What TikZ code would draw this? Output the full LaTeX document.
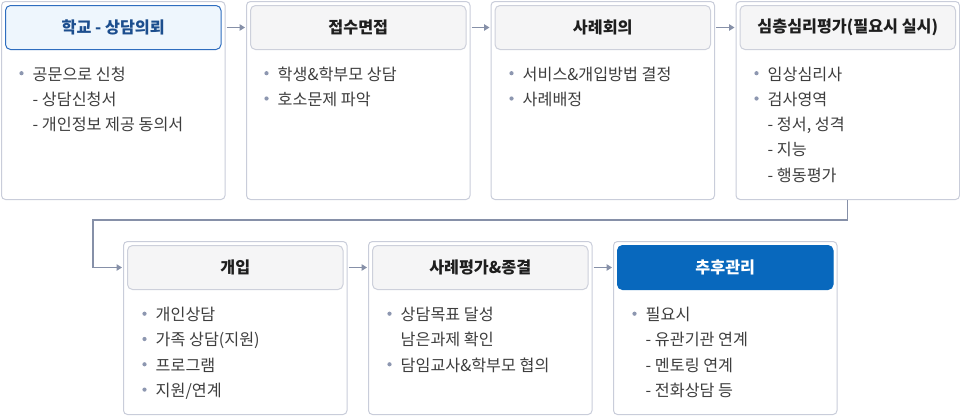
\documentclass[tikz,border=0pt]{standalone}
\usepackage{fontspec}
\setmainfont{Noto Sans CJK KR}
\usetikzlibrary{arrows.meta}
\definecolor{boxline}{HTML}{C9CDDA}
\definecolor{hdfill}{HTML}{F5F5F6}
\definecolor{hdline}{HTML}{CDD0DB}
\definecolor{bluefill}{HTML}{EEF6FD}
\definecolor{blueline}{HTML}{2E6DBF}
\definecolor{bluetext}{HTML}{1C4E8E}
\definecolor{darkblue}{HTML}{0868BD}
\definecolor{arrowc}{HTML}{8690A8}
\definecolor{bodyc}{HTML}{3E3E3E}
\definecolor{bulc}{HTML}{8D97B0}
\definecolor{headc}{HTML}{1E1E1E}
\newcommand{\bitem}[4]{\fill[bulc] (#2-11,#3-6.8) circle (2.1pt); \node[bodytext] (#1) at (#2,#3) {#4};}
\newcommand{\sitem}[4]{\node[bodytext] (#1) at (#2,#3) {#4};}
\begin{document}
\begin{tikzpicture}[x=1pt,y=-1pt,
  outerbox/.style={draw=boxline, line width=1pt, rounded corners=4pt, fill=white, anchor=north west, inner sep=0pt, minimum width=223.5pt},
  hdbox/.style={draw=hdline, fill=hdfill, line width=1pt, rounded corners=5pt, anchor=north west, inner sep=0pt, minimum width=215.5pt, minimum height=44pt, font=\fontsize{16.2}{19}\selectfont\bfseries, text=headc},
  hdblue/.style={hdbox, draw=blueline, fill=bluefill, text=bluetext},
  hddark/.style={hdbox, draw=darkblue, fill=darkblue, text=white},
  bodytext/.style={anchor=base west, inner sep=0pt, font=\fontsize{16.2}{19}\selectfont, text=bodyc},
  arr/.style={draw=arrowc, line width=1.1pt, -{Triangle[length=5.5pt,width=6.5pt]}, shorten <=1pt, shorten >=1pt}
]
\useasboundingbox (0,0) rectangle (960,415);
% top row boxes
\node[outerbox, minimum height=198pt] (b1) at (1,1) {};
\node[outerbox, minimum height=198pt] (b2) at (246,1) {};
\node[outerbox, minimum height=198pt] (b3) at (490.5,1) {};
\node[outerbox, minimum height=198pt] (b4) at (735.5,1) {};
\node[hdblue] (h1) at (5,5) {학교 - 상담의뢰};
\node[hdbox] (h2) at (250,5) {접수면접};
\node[hdbox] (h3) at (494.5,5) {사례회의};
\node[hdbox] (h4) at (739.5,5) {심층심리평가(필요시 실시)};
% bottom row boxes
\node[outerbox, minimum height=173pt] (b5) at (123,241) {};
\node[outerbox, minimum height=173pt] (b6) at (368,241) {};
\node[outerbox, minimum height=173pt] (b7) at (613,241) {};
\node[hdbox] (h5) at (127,245) {개입};
\node[hdbox] (h6) at (372,245) {사례평가\&종결};
\node[hddark] (h7) at (617,245) {추후관리};
% body texts
\bitem{t1a}{32.5}{80}{공문으로 신청}
\sitem{t1b}{32.5}{105.3}{- 상담신청서}
\sitem{t1c}{32.5}{130.6}{- 개인정보 제공 동의서}
\bitem{t2a}{277.5}{80}{학생\&학부모 상담}
\bitem{t2b}{277.5}{105.3}{호소문제 파악}
\bitem{t3a}{522.5}{80}{서비스\&개입방법 결정}
\bitem{t3b}{522.5}{105.3}{사례배정}
\bitem{t4a}{767.5}{80}{임상심리사}
\bitem{t4b}{767.5}{105.3}{검사영역}
\sitem{t4c}{767.5}{130.6}{- 정서, 성격}
\sitem{t4d}{767.5}{155.9}{- 지능}
\sitem{t4e}{767.5}{181.2}{- 행동평가}
\bitem{t5a}{155.5}{320.5}{개인상담}
\bitem{t5b}{155.5}{345.8}{가족 상담(지원)}
\bitem{t5c}{155.5}{371.1}{프로그램}
\bitem{t5d}{155.5}{396.4}{지원/연계}
\bitem{t6a}{400.5}{320.5}{상담목표 달성}
\sitem{t6b}{400.5}{345.8}{남은과제 확인}
\bitem{t6c}{400.5}{371.1}{담임교사\&학부모 협의}
\bitem{t7a}{645.5}{320.5}{필요시}
\sitem{t7b}{645.5}{345.8}{- 유관기관 연계}
\sitem{t7c}{645.5}{371.1}{- 멘토링 연계}
\sitem{t7d}{645.5}{396.4}{- 전화상담 등}
% connectors
\draw[arr] (b1.east |- h1.center) -- (b2.west |- h2.center);
\draw[arr] (b2.east |- h2.center) -- (b3.west |- h3.center);
\draw[arr] (b3.east |- h3.center) -- (b4.west |- h4.center);
\coordinate (c1) at (93,220);
\draw[arr, shorten <=0pt] (b4.south) |- (c1) |- (b5.west |- h5.center);
\draw[arr] (b5.east |- h5.center) -- (b6.west |- h6.center);
\draw[arr] (b6.east |- h6.center) -- (b7.west |- h7.center);
\end{tikzpicture}
\end{document}
